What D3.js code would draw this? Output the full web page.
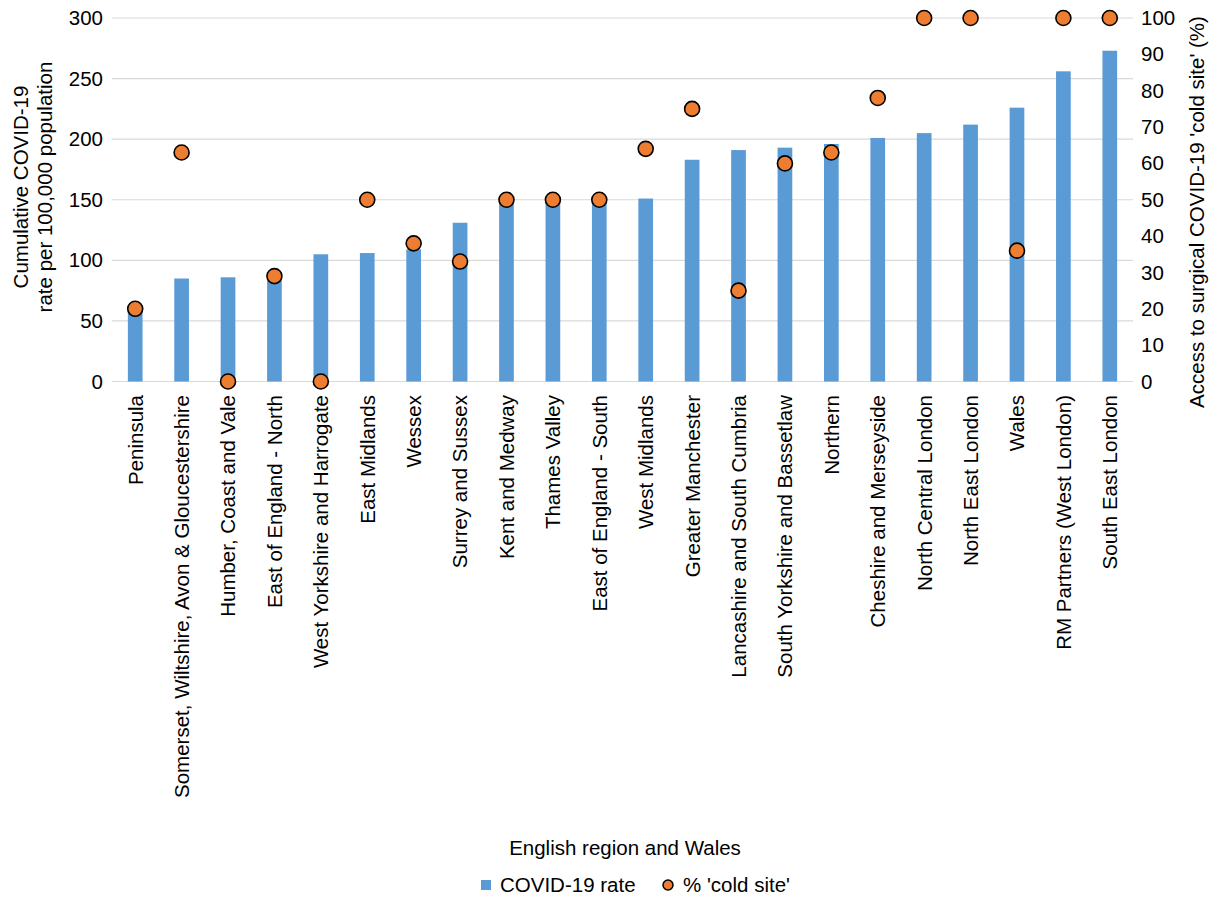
<!DOCTYPE html>
<html>
<head>
<meta charset="utf-8">
<script src="https://cdn.jsdelivr.net/npm/d3@7"></script>
<style>
  body { margin: 0; background: #fff; }
  text { font-family: "Liberation Sans", Arial, Helvetica, sans-serif; fill: #000; }
</style>
</head>
<body>
<svg id="chart" width="1218" height="898"></svg>
<script>
// regions, in plotting order
var regions = [
    "Peninsula",
    "Somerset, Wiltshire, Avon & Gloucestershire",
    "Humber, Coast and Vale",
    "East of England - North",
    "West Yorkshire and Harrogate",
    "East Midlands",
    "Wessex",
    "Surrey and Sussex",
    "Kent and Medway",
    "Thames Valley",
    "East of England - South",
    "West Midlands",
    "Greater Manchester",
    "Lancashire and South Cumbria",
    "South Yorkshire and Bassetlaw",
    "Northern",
    "Cheshire and Merseyside",
    "North Central London",
    "North East London",
    "Wales",
    "RM Partners (West London)",
    "South East London"
];
// cumulative COVID-19 rate per 100,000
var covidRate = [58, 85, 86, 89, 105, 106, 109, 131, 148, 148, 149, 151, 183, 191, 193, 196, 201, 205, 212, 226, 256, 273];
// % with access to a 'cold site'
var coldSite = [20, 63, 0, 29, 0, 50, 38, 33, 50, 50, 50, 64, 75, 25, 60, 63, 78, 100, 100, 36, 100, 100];

var leftTicks = [0, 50, 100, 150, 200, 250, 300];
var rightTicks = [0, 10, 20, 30, 40, 50, 60, 70, 80, 90, 100];

var svg = d3.select("#chart");
var fontSize = "20.5px";
var plotLeft = 112, plotRight = 1133, plotTop = 18, plotBottom = 381.5;
var barWidth = 14.7;

var x = d3.scaleBand().domain(regions).range([plotLeft, plotRight]).padding(0);
var yLeft = d3.scaleLinear().domain([0, 300]).range([plotBottom, plotTop]);
var yRight = d3.scaleLinear().domain([0, 100]).range([plotBottom, plotTop]);

function centre(d){ return x(d) + x.bandwidth() / 2; }

// gridlines
svg.append("g").selectAll("line")
    .data(leftTicks)
    .enter().append("line")
    .attr("x1", plotLeft).attr("x2", plotRight)
    .attr("y1", function(d){ return yLeft(d); })
    .attr("y2", function(d){ return yLeft(d); })
    .style("stroke", "#d9d9d9")
    .style("stroke-width", 1.2);

// left axis labels
var leftAxis = svg.append("g")
    .attr("transform", "translate(" + (plotLeft - 5) + ",0)")
    .call(d3.axisLeft(yLeft).tickValues(leftTicks).tickSize(0).tickPadding(4));
leftAxis.select(".domain").remove();
leftAxis.selectAll("text").style("font-size", fontSize).style("font-family", null);

// right axis labels
var rightAxis = svg.append("g")
    .attr("transform", "translate(" + (plotRight + 4) + ",0)")
    .call(d3.axisRight(yRight).tickValues(rightTicks).tickSize(0).tickPadding(4));
rightAxis.select(".domain").remove();
rightAxis.selectAll("text").style("font-size", fontSize).style("font-family", null);

// bars
svg.append("g").selectAll("rect")
    .data(regions)
    .enter().append("rect")
    .attr("x", function(d){ return centre(d) - barWidth / 2; })
    .attr("width", barWidth)
    .attr("y", function(d, i){ return yLeft(covidRate[i]); })
    .attr("height", function(d, i){ return yLeft(0) - yLeft(covidRate[i]); })
    .style("fill", "#5b9bd5");

// cold site dots
svg.append("g").selectAll("circle")
    .data(regions)
    .enter().append("circle")
    .attr("cx", function(d){ return centre(d); })
    .attr("cy", function(d, i){ return yRight(coldSite[i]); })
    .attr("r", 7.5)
    .style("fill", "#ed7d31")
    .style("stroke", "#000")
    .style("stroke-width", 1.6);

// category labels (rotated)
svg.append("g").selectAll("text")
    .data(regions)
    .enter().append("text")
    .attr("transform", function(d){ return "translate(" + centre(d) + ",395) rotate(-90)"; })
    .attr("dy", "0.36em")
    .style("text-anchor", "end")
    .style("font-size", fontSize)
    .text(function(d){ return d; });

// axis titles
var leftTitle = svg.append("text")
    .attr("transform", "translate(33,187) rotate(-90)")
    .style("text-anchor", "middle")
    .style("font-size", fontSize);
leftTitle.append("tspan").attr("x", 0).attr("dy", "-0.25em").text("Cumulative COVID-19");
leftTitle.append("tspan").attr("x", 0).attr("dy", "1.2em").text("rate per 100,000 population");

svg.append("text")
    .attr("transform", "translate(1197,212) rotate(-90)")
    .attr("dy", "0.36em")
    .style("text-anchor", "middle")
    .style("font-size", fontSize)
    .text("Access to surgical COVID-19 'cold site' (%)");

svg.append("text")
    .attr("x", 625).attr("y", 848)
    .attr("dy", "0.36em")
    .style("text-anchor", "middle")
    .style("font-size", fontSize)
    .text("English region and Wales");

// legend
var legend = svg.append("g");
legend.append("rect")
    .attr("x", 481).attr("y", 880).attr("width", 10).attr("height", 10)
    .style("fill", "#5b9bd5");
legend.append("text")
    .attr("x", 500).attr("y", 885).attr("dy", "0.36em")
    .style("font-size", fontSize)
    .text("COVID-19 rate");
legend.append("circle")
    .attr("cx", 668).attr("cy", 885).attr("r", 5)
    .style("fill", "#ed7d31").style("stroke", "#000").style("stroke-width", 1.5);
legend.append("text")
    .attr("x", 683).attr("y", 885).attr("dy", "0.36em")
    .style("font-size", fontSize)
    .text("% 'cold site'");
</script>
</body>
</html>
